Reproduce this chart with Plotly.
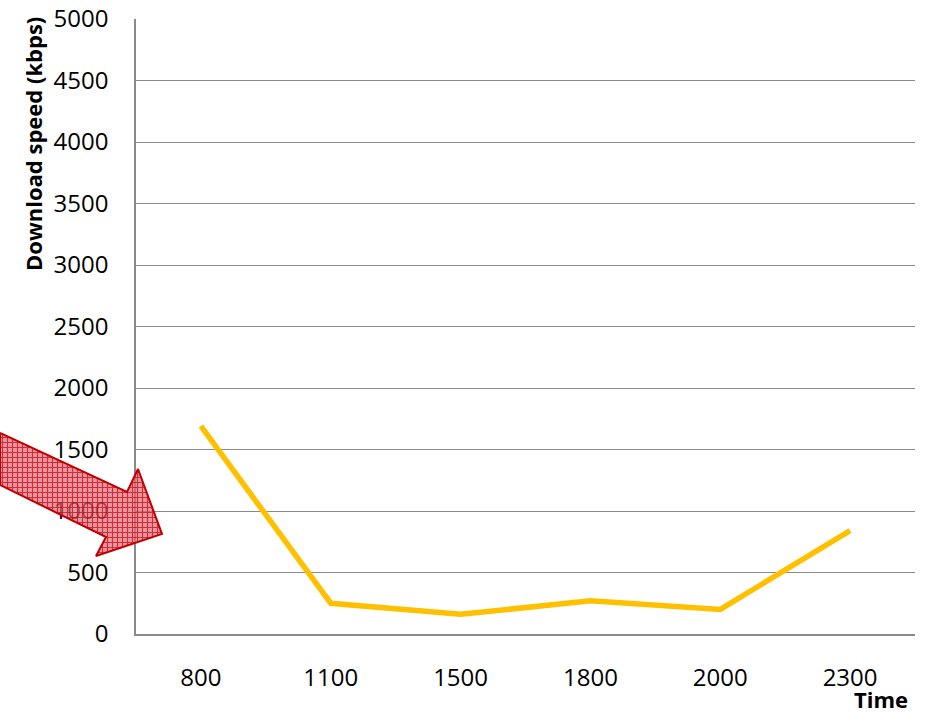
import plotly.graph_objects as go

# Data
times = ["800", "1100", "1500", "1800", "2000", "2300"]
speeds = [1690, 250, 160, 270, 200, 840]
y_ticks = [0, 500, 1000, 1500, 2000, 2500, 3000, 3500, 4000, 4500, 5000]

# Decorative arrow outline (page pixel space)
arrow_x = [0, 127, 138, 162, 96, 106, 0, 0]
arrow_y = [433, 492, 469, 534, 556, 537, 485, 433]

W, H = 926, 713
L, R, T, B = 136, 915, 19, 634
FONT = "Open Sans"

fig = go.Figure()
fig.add_trace(go.Scatter(
    x=times, y=speeds, mode="lines",
    line=dict(color="#FFC000", width=5.5),
    showlegend=False, hoverinfo="x+y",
))
fig.add_trace(go.Scatter(
    x=arrow_x, y=arrow_y,
    mode="lines", fill="toself",
    xaxis="x2", yaxis="y2",
    line=dict(color="#C00000", width=2),
    fillcolor="rgba(222,90,100,0.7)",
    fillpattern=dict(shape="+", size=5, solidity=0.4,
                     fgcolor="rgba(190,0,20,0.7)",
                     bgcolor="rgba(228,105,115,0.7)",
                     fillmode="replace"),
    showlegend=False, hoverinfo="skip",
))

fig.update_layout(
    width=W, height=H,
    margin=dict(l=0, r=0, t=0, b=0, autoexpand=False),
    paper_bgcolor="white", plot_bgcolor="rgba(0,0,0,0)",
    font=dict(family=FONT, size=24, color="#000000"),
    xaxis=dict(
        domain=[L / W, R / W],
        type="category", range=[-0.5, 5.5],
        showgrid=False, showline=True, linecolor="#8a8a8a", linewidth=1.5,
        ticks="", ticklabelstandoff=21, automargin=False,
        tickfont=dict(family=FONT, size=24),
        anchor="y", fixedrange=True,
    ),
    yaxis=dict(
        domain=[(H - B) / H, (H - T) / H],
        range=[0, 5000], tickvals=y_ticks,
        showgrid=True, gridcolor="#8a8a8a", gridwidth=1.3,
        showline=True, linecolor="#8a8a8a", linewidth=1.5,
        zeroline=False, ticks="", ticklabelstandoff=21, automargin=False,
        ticklabeloverflow="allow",
        tickfont=dict(family=FONT, size=24),
        anchor="x", fixedrange=True,
    ),
    xaxis2=dict(domain=[0, 1], range=[0, W], visible=False, anchor="y2",
                fixedrange=True, automargin=False),
    yaxis2=dict(domain=[0, 1], range=[H, 0], visible=False, anchor="x2",
                fixedrange=True, automargin=False),
    annotations=[
        dict(text="<b>Download speed (kbps)</b>", textangle=-90,
             xref="paper", yref="paper", x=33 / W, y=1 - 144 / H,
             xanchor="center", yanchor="middle", showarrow=False,
             font=dict(family=FONT, size=22)),
        dict(text="<b>Time</b>", xref="paper", yref="paper",
             x=881 / W, y=1 - 699 / H, xanchor="center", yanchor="middle",
             showarrow=False, font=dict(family=FONT, size=22)),
    ],
)

fig.write_html(
    "out.html",
    config={"displayModeBar": False},
    post_script="document.body.style.margin='0';document.body.style.overflow='hidden';",
)
